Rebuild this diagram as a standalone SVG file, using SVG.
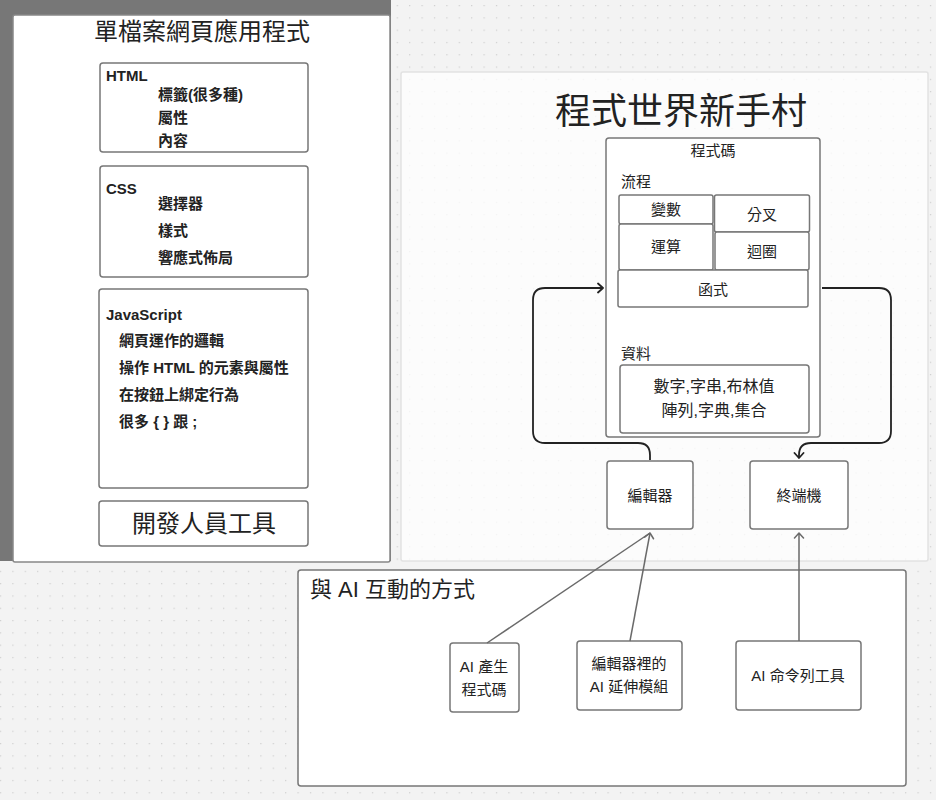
<svg xmlns="http://www.w3.org/2000/svg" width="936" height="800" viewBox="0 0 936 800">
<defs>
<pattern id="dots" x="-0.1" y="5" width="12.4" height="12.3" patternUnits="userSpaceOnUse">
<rect x="0" y="0" width="1.2" height="1.2" fill="#cdcdcd"/>
</pattern>
<marker id="arrD" markerWidth="12" markerHeight="12" refX="6" refY="5" orient="auto" markerUnits="userSpaceOnUse" viewBox="0 0 12 10">
<path d="M1,0.5 L6,5 L1,9.5" fill="none" stroke="#222" stroke-width="1.8" stroke-linecap="round" stroke-linejoin="round"/>
</marker>
<marker id="arrG" markerWidth="12" markerHeight="12" refX="6" refY="5" orient="auto" markerUnits="userSpaceOnUse" viewBox="0 0 12 10">
<path d="M1,0.5 L6,5 L1,9.5" fill="none" stroke="#6a6a6a" stroke-width="1.5" stroke-linecap="round" stroke-linejoin="round"/>
</marker>
</defs>
<style>
text{font-family:"Liberation Sans","Noto Sans CJK TC",sans-serif;fill:#222;}
.box{fill:#fff;stroke:#777;stroke-width:1.5;}
.lp{font-size:15px;font-weight:bold;}
.t15{font-size:15px;}
.c{text-anchor:middle;}
.conn{fill:none;stroke:#222;stroke-width:1.8;}
.gconn{fill:none;stroke:#6a6a6a;stroke-width:1.5;}
</style>
<rect x="0" y="0" width="936" height="800" fill="#f3f3f3"/>
<rect x="0" y="0" width="936" height="800" fill="url(#dots)"/>
<rect x="0" y="0" width="391" height="561" fill="#777"/>

<g id="left-panel">
<rect x="13" y="15" width="377" height="547" rx="2" fill="#fff" stroke="#888" stroke-width="1.5"/>
<text x="202" y="40" class="c" font-size="24">單檔案網頁應用程式</text>
</g>
<g id="html">
<rect class="box" x="100" y="63" width="208" height="89" rx="3"/>
<text class="lp" x="106" y="81">HTML</text>
<text class="lp" x="158" y="100">標籤(很多種)</text>
<text class="lp" x="158" y="123">屬性</text>
<text class="lp" x="158" y="146">內容</text>
</g>
<g id="css">
<rect class="box" x="100" y="166" width="208" height="111" rx="3"/>
<text class="lp" x="106" y="194">CSS</text>
<text class="lp" x="158" y="209">選擇器</text>
<text class="lp" x="158" y="236">樣式</text>
<text class="lp" x="158" y="263">響應式佈局</text>
</g>
<g id="javascript">
<rect class="box" x="99" y="289" width="209" height="199" rx="3"/>
<text class="lp" x="106" y="320">JavaScript</text>
<text class="lp" x="119" y="346">網頁運作的邏輯</text>
<text class="lp" x="119" y="373">操作 HTML 的元素與屬性</text>
<text class="lp" x="119" y="400">在按鈕上綁定行為</text>
<text class="lp" x="119" y="427">很多 { } 跟 ;</text>
</g>
<g id="devtools">
<rect class="box" x="99" y="501" width="209" height="45" rx="3"/>
<text x="204" y="532" class="c" font-size="24">開發人員工具</text>
</g>

<g id="right-panel">
<rect x="401" y="72" width="527" height="489" rx="2" fill="#fff" fill-opacity="0.75" stroke="#e2e2e2" stroke-width="1.5"/>
<text x="681" y="124" class="c" font-size="36">程式世界新手村</text>
</g>
<g id="code">
<rect class="box" x="606" y="138" width="214" height="299" rx="3"/>
<text class="t15 c" x="713" y="156">程式碼</text>
<text class="t15" x="621" y="187">流程</text>
<text class="t15" x="621" y="359">資料</text>
</g>
<g id="var">
<rect class="box" x="619" y="195" width="94" height="29" rx="2"/>
<text class="t15 c" x="666" y="215">變數</text>
</g>
<g id="branch">
<rect class="box" x="714.5" y="195" width="95" height="37" rx="2"/>
<text class="t15 c" x="762" y="220">分叉</text>
</g>
<g id="op">
<rect class="box" x="619" y="224" width="94" height="46" rx="2"/>
<text class="t15 c" x="666" y="252">運算</text>
</g>
<g id="loop">
<rect class="box" x="715" y="232" width="94" height="38" rx="2"/>
<text class="t15 c" x="762" y="257">迴圈</text>
</g>
<g id="func">
<rect class="box" x="618" y="270" width="190" height="37" rx="2"/>
<text class="t15 c" x="713" y="295">函式</text>
</g>
<g id="data">
<rect class="box" x="620" y="365" width="189" height="68" rx="3"/>
<text class="c" font-size="16" x="714" y="392">數字,字串,布林值</text>
<text class="c" font-size="16" x="714" y="416">陣列,字典,集合</text>
</g>
<g id="editor">
<rect class="box" x="607" y="461" width="86" height="68" rx="3"/>
<text class="t15 c" x="650" y="501">編輯器</text>
</g>
<g id="terminal">
<rect class="box" x="750" y="461" width="98" height="68" rx="3"/>
<text class="t15 c" x="799" y="501">終端機</text>
</g>

<g id="ai-panel">
<rect x="298" y="570" width="608" height="216" rx="3" fill="#fff" stroke="#777" stroke-width="1.5"/>
<text x="310" y="597" font-size="22">與 AI 互動的方式</text>
</g>
<g id="ai-gen">
<rect class="box" x="450" y="643" width="69" height="69" rx="3"/>
<text class="t15 c" x="484" y="672">AI 產生</text>
<text class="t15 c" x="484" y="695">程式碼</text>
</g>
<g id="ai-ext">
<rect class="box" x="577" y="641" width="105" height="69" rx="3"/>
<text class="t15 c" x="629" y="669">編輯器裡的</text>
<text class="t15 c" x="629" y="692">AI 延伸模組</text>
</g>
<g id="ai-cli">
<rect class="box" x="736" y="641" width="125" height="69" rx="3"/>
<text class="t15 c" x="798" y="681">AI 命令列工具</text>
</g>

<g id="connectors">
<path class="conn" d="M650,460 V455 Q650,443 638,443 H545 Q533,443 533,431 V300 Q533,288 545,288 H603" marker-end="url(#arrD)"/>
<path class="conn" d="M822,288 H879 Q891,288 891,300 V431 Q891,443 879,443 H811 Q799,443 799,455 V458" marker-end="url(#arrD)"/>
<path class="gconn" d="M487,643 L650,533"/>
<path class="gconn" d="M630,641 L650,533" marker-end="url(#arrG)"/>
<path class="gconn" d="M799,641 L799,533" marker-end="url(#arrG)"/>
</g>
</svg>
